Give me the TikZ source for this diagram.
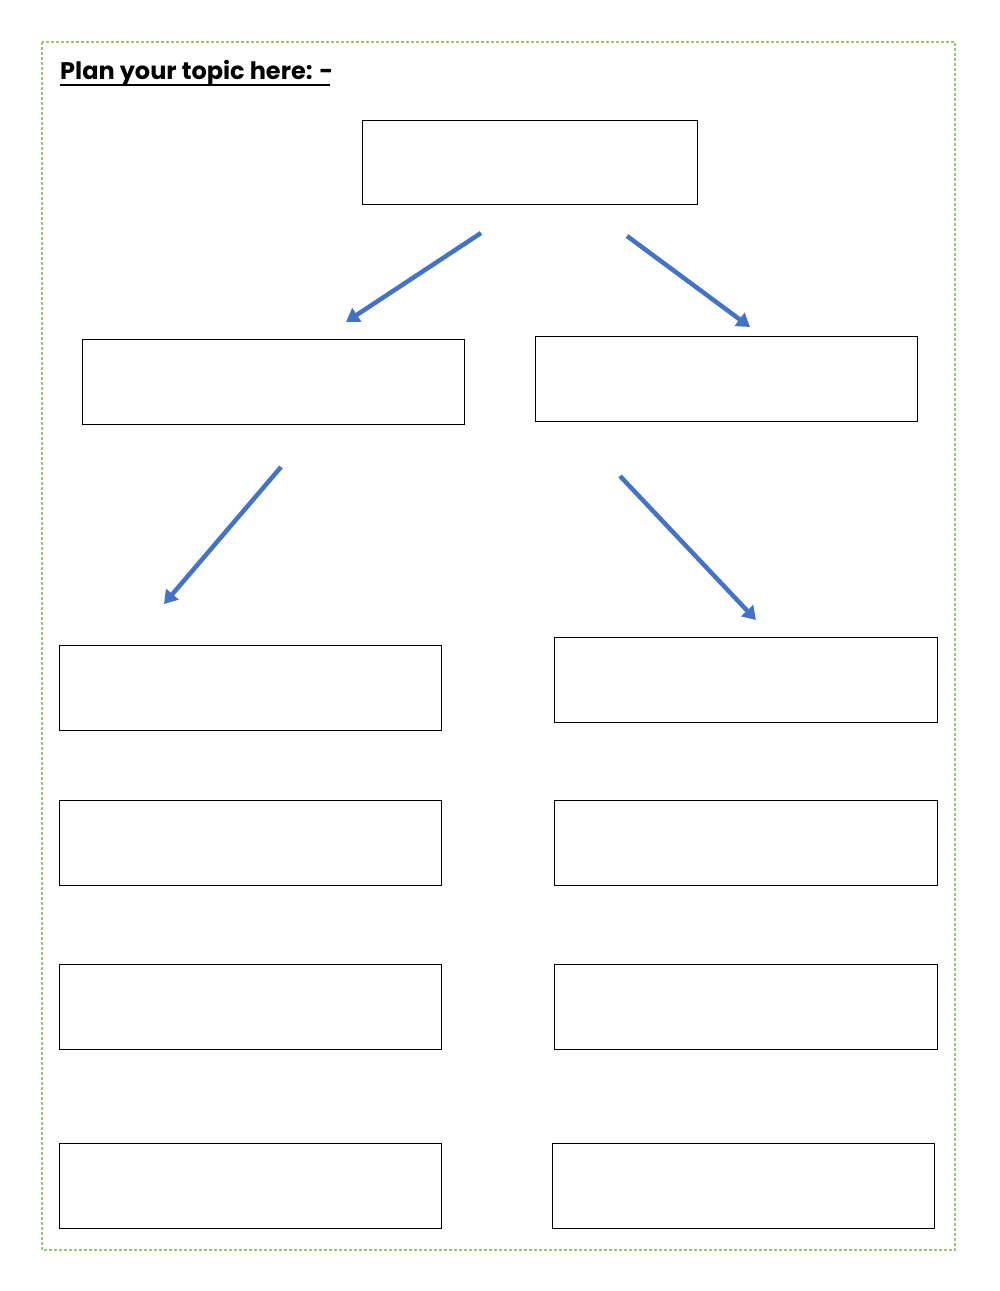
\documentclass[tikz,border=0pt]{standalone}
\usepackage{fontspec}
\newfontfamily\titlefont{Poppins}
\usetikzlibrary{arrows.meta}
\definecolor{arrowblue}{HTML}{4472C4}
\definecolor{edgegreen}{HTML}{9CC56E}
\tikzset{
	planbox/.style={draw,line width=1pt,anchor=north west,minimum width=382pt,minimum height=85pt,inner sep=0pt},
	planarrow/.style={arrowblue,line width=4.5pt,-{Triangle[length=13pt,width=16pt]}}
}
\begin{document}
\begin{tikzpicture}[x=1pt,y=-1pt]
\useasboundingbox (0,0) rectangle (1000,1291);

% page edge
\draw[edgegreen,line width=1.5pt,densely dashed] (42,42) rectangle (955,1250);

\node[anchor=base west,inner sep=0pt,font=\titlefont\bfseries\fontsize{24}{28}\selectfont] (title) at (60,79) {Plan your topic here: -};
\draw[line width=2.5pt] (title.base west) ++(0,6) -- ++(270,0);

\node[planbox,minimum width=335pt,minimum height=84pt] (topic) at (362,120) {};
\node[planbox] (left) at (82,339) {};
\node[planbox] (right) at (535,336) {};

\foreach \i/\y in {1/645,2/800,3/964,4/1143} {
	\node[planbox] (left\i) at (59,\y) {};
}
\foreach \i/\y in {1/637,2/800,3/964} {
	\node[planbox,minimum width=383pt] (right\i) at (554,\y) {};
}
\node[planbox] (right4) at (552,1143) {};

\coordinate (a1) at (481,233);
\coordinate (b1) at (346,322);
\coordinate (a2) at (627,236);
\coordinate (b2) at (750,327);
\coordinate (a3) at (281,467);
\coordinate (b3) at (164,604);
\coordinate (a4) at (620,476);
\coordinate (b4) at (756,620);

\draw[planarrow] (a1) -- (b1);
\draw[planarrow] (a2) -- (b2);
\draw[planarrow] (a3) -- (b3);
\draw[planarrow] (a4) -- (b4);

\end{tikzpicture}
\end{document}
